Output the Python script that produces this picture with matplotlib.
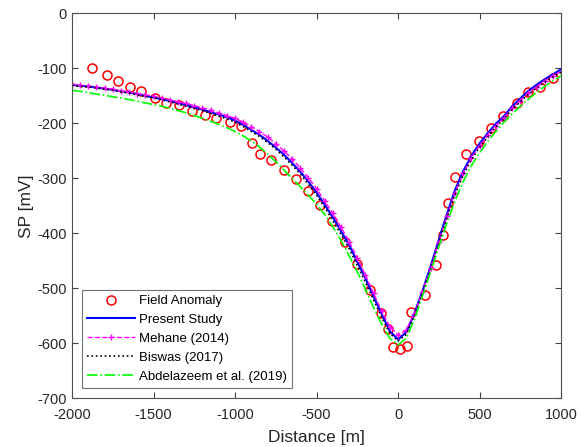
import numpy as np
import matplotlib
matplotlib.use("Agg")
import matplotlib.pyplot as plt

plt.rcParams['font.family'] = ['Liberation Sans', 'DejaVu Sans']
plt.rcParams['axes.unicode_minus'] = False

# field anomaly
field_x = [-1877, -1785, -1715, -1645, -1578, -1494, -1424, -1344, -1264, -1187,
           -1115, -1033, -966, -896, -845, -777, -701, -625, -551, -480,
           -404, -326, -250, -175, -107, -64, -29, 10, 53, 82,
           164, 235, 274, 305, 350, 417, 495, 573, 645, 727,
           798, 872, 948]
field_sp = [-100, -113, -124, -134, -141, -154, -164, -167, -178, -185,
            -190, -198, -205, -235, -255, -267, -285, -302, -323, -349,
            -377, -415, -456, -503, -545, -574, -606, -611, -605, -544,
            -512, -457, -403, -345, -297, -255, -232, -209, -186, -164,
            -144, -134, -118]

# model curves, sampled every 50 m
model_x = list(range(-2000, 1001, 50))
present = [-130, -132, -133, -135, -137, -139, -142, -144, -147, -150,
           -153, -156, -159, -163, -167, -171, -175, -180, -184, -189,
           -195, -203, -212, -221, -232, -244, -257, -272, -288, -306,
           -326, -348, -371, -396, -421, -452, -482, -515, -547, -578,
           -593, -580, -546, -505, -460, -412, -365, -321, -287, -259,
           -237, -218, -201, -187, -169, -155, -141, -130, -120, -111,
           -102]
mehane = [-129, -131, -132, -134, -136, -138, -141, -143, -146, -148,
          -151, -154, -157, -161, -164, -168, -172, -176, -181, -186,
          -191, -198, -206, -215, -225, -237, -250, -265, -281, -299,
          -319, -341, -364, -389, -415, -445, -476, -509, -542, -570,
          -585, -576, -546, -507, -463, -416, -369, -326, -291, -263,
          -241, -222, -205, -190, -173, -159, -145, -134, -123, -114,
          -106]
biswas = [-131, -133, -134, -136, -138, -140, -143, -145, -148, -151,
          -154, -157, -161, -165, -169, -173, -177, -182, -187, -192,
          -198, -206, -215, -224, -235, -247, -261, -276, -292, -311,
          -331, -353, -377, -402, -428, -458, -489, -521, -553, -582,
          -596, -584, -550, -510, -466, -419, -372, -329, -294, -266,
          -244, -225, -207, -192, -175, -161, -147, -136, -125, -116,
          -107]
abdel = [-140, -142, -144, -147, -149, -152, -154, -157, -160, -163,
         -166, -169, -173, -177, -181, -186, -191, -196, -202, -208,
         -215, -223, -232, -243, -256, -270, -285, -300, -315, -331,
         -347, -366, -388, -413, -441, -470, -502, -535, -565, -591,
         -603, -591, -557, -514, -470, -425, -381, -341, -306, -277,
         -254, -233, -215, -198, -183, -169, -156, -144, -133, -123,
         -114]

fig = plt.figure(figsize=(5.81, 4.47), dpi=100)
ax = fig.add_axes([0.124, 0.109, 0.8416, 0.8613])

ax.plot(field_x, field_sp, 'o', color='#ff0000', mfc='none', ms=6.5, mew=1.1,
        label='Field Anomaly')
ax.plot(model_x, present, '-', color='#0000ff', lw=1.5, label='Present Study')
ax.plot(model_x, mehane, '--', color='#ff00ff', lw=1.0, marker='+', ms=5,
        mew=1.0, label='Mehane (2014)')
ax.plot(model_x, biswas, ':', color='black', lw=1.2, label='Biswas (2017)')
ax.plot(model_x, abdel, '-.', color='#00ff00', lw=1.2,
        label='Abdelazeem et al. (2019)')

ax.set_xlim(-2000, 1000)
ax.set_ylim(-700, 0)
ax.set_xticks(np.arange(-2000, 1001, 500))
ax.set_yticks(np.arange(-700, 1, 100))
ax.tick_params(direction='in', top=True, right=True, length=4, width=0.8,
               labelsize=10.5, colors='#404040', labelcolor='#262626')
ax.tick_params(axis='x', pad=7)
ax.tick_params(axis='y', pad=4)
for s in ax.spines.values():
    s.set_color('#505050')
    s.set_linewidth(0.8)

ax.set_xlabel('Distance [m]', fontsize=12.5, color='#262626', labelpad=6)
ax.set_ylabel('SP [mV]', fontsize=12.5, color='#262626', labelpad=2)

leg = ax.legend(loc='lower left', bbox_to_anchor=(0.02, 0.027), fontsize=9.5,
                frameon=True, fancybox=False, edgecolor='#505050',
                handlelength=3.6, handletextpad=0.3, labelspacing=0.5,
                borderpad=0.4, borderaxespad=0)
leg.get_frame().set_linewidth(0.8)

fig.savefig('out.png', dpi=100)
